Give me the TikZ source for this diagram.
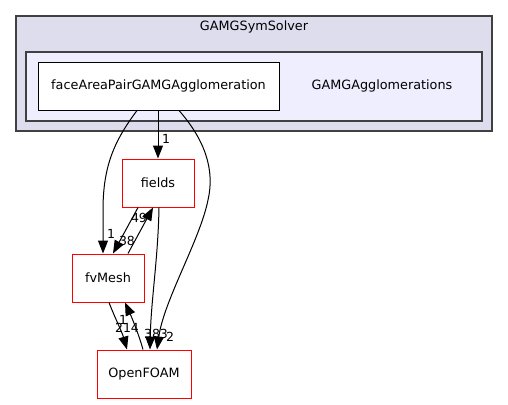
\documentclass[tikz,border=0pt]{standalone}
\usepackage{fontspec}
\setmainfont{DejaVu Sans}
\usetikzlibrary{arrows.meta}
\definecolor{outerfill}{HTML}{DDDDEE}
\definecolor{innerfill}{HTML}{EEEEFF}
\definecolor{clbord}{HTML}{404040}
\definecolor{redbord}{HTML}{FF0000}
\tikzset{
  cluster/.style={draw=clbord, line width=1.2pt, inner sep=0pt},
  dirbox/.style={draw=black, line width=1pt, fill=white, inner sep=0pt, minimum height=48pt, font=\fontsize{12.8}{14}\selectfont},
  extbox/.style={draw=redbord, line width=1pt, fill=white, inner sep=0pt, minimum height=48pt, font=\fontsize{12.8}{14}\selectfont},
  txt/.style={inner sep=0pt, font=\fontsize{12.8}{14}\selectfont},
  lbl/.style={inner sep=0pt, font=\fontsize{12.5}{14}\selectfont},
  dep/.style={draw=black, line width=1pt, -{Triangle[length=13pt,width=10pt]}},
}
\begin{document}
\begin{tikzpicture}[x=1pt,y=-1pt]
\useasboundingbox (0,0) rectangle (508,404);
% clusters
\fill[outerfill] (16,16) rectangle (492,131);
\draw[cluster] (16,16) rectangle (492,131);
\node[txt] (t1) at (254,27) {GAMGSymSolver};
\fill[innerfill] (26,52) rectangle (482,121);
\draw[cluster] (26,52) rectangle (482,121);
\node[txt] (t2) at (382,86) {GAMGAgglomerations};
% nodes
\node[dirbox, minimum width=241pt] (fa) at (158.5,86) {faceAreaPairGAMGAgglomeration};
\node[extbox, minimum width=72pt] (fields) at (158,183) {fields};
\node[extbox, minimum width=72pt] (fvm) at (108,278) {fvMesh};
\node[extbox, minimum width=94pt] (of) at (144,374) {OpenFOAM};
% edges
\draw[dep] (fa.south -| fields.north) -- (fields.north);
\node[lbl] (l1) at (166,139) {1};
\draw[dep] ([xshift=-21.5pt]fa.south) .. controls (115,140) and (103,165) .. (103,210) -- ([xshift=-5pt]fvm.north);
\node[lbl] (l2) at (111,234) {1};
\draw[dep] ([xshift=20.5pt]fa.south) .. controls (205,140) and (215,170) .. (208,200) .. controls (200,240) and (164,300) .. ([xshift=13pt]of.north);
\node[lbl] (l3) at (170,337) {2};
\draw[dep] ([xshift=1pt]fields.south) .. controls (158,260) and (151,300) .. ([xshift=6pt]of.north);
\node[lbl] (l4) at (156,334) {383};
\draw[dep] ([xshift=-20pt]fields.south) -- ([xshift=5pt]fvm.north);
\node[lbl] (l5) at (127,241) {38};
\draw[dep] ([xshift=20pt]fvm.north) -- ([xshift=-5pt]fields.south);
\node[lbl] (l6) at (139,218) {49};
\draw[dep] ([xshift=1pt]fvm.south) .. controls (115,318) and (122,332) .. ([xshift=-17pt]of.north);
\node[lbl] (l7) at (127,328) {214};
\draw[dep] ([xshift=-1pt]of.north) .. controls (139,335) and (132,318) .. ([xshift=17pt]fvm.south);
\node[lbl] (l8) at (123,320) {1};
\end{tikzpicture}
\end{document}
